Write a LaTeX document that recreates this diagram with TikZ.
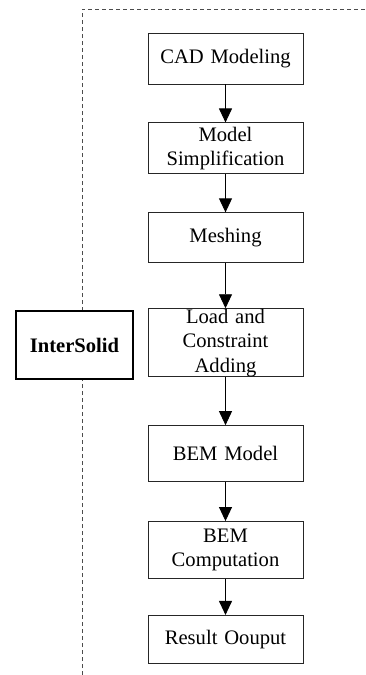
\documentclass[tikz,border=0pt]{standalone}
\usepackage{fontspec}
\setmainfont{Liberation Serif}
\usepackage{tikz}
\usetikzlibrary{positioning, arrows.meta}

\tikzset{
	stage/.style={draw=black!85, line width=0.9pt, text width=150pt, inner xsep=2.5pt, inner ysep=0pt, align=center, font=\fontsize{20.6}{24.5}\selectfont},
	frame/.style={draw=black!70, line width=0.9pt, dash pattern=on 4pt off 3pt}
}

\begin{document}
\begin{tikzpicture}[x=1pt, y=-1pt, >={Triangle[length=14pt,width=13pt]}, ->, line width=0.9pt]
	 	\useasboundingbox (0,0) rectangle (366,675);
	 	\draw[frame, -] (82,675) -- (82,9) -- (366,9);
	 	
	 	\node[stage, minimum height=51pt] at (225.5,58.5) (s0) {CAD Modeling};
	 	\node[stage, minimum height=51pt, below=38pt of s0] (s1) {Model\\Simplification};
	 	\node[stage, minimum height=50pt, below=38pt of s1] (s2) {Meshing};
	 	\node[stage, minimum height=68pt, below=45pt of s2] (s3) {Load and\\Constraint\\Adding};
	 	\node[stage, minimum height=56pt, below=48pt of s3] (s4) {BEM Model};
	 	\node[stage, minimum height=57pt, below=39pt of s4] (s5) {BEM\\Computation};
	 	\node[stage, minimum height=48pt, below=36pt of s5] (s6) {Result Oouput};
	 	
	 	\node[draw, fill=white, line width=1.8pt, minimum width=117pt, minimum height=68pt, font=\fontsize{20.6}{24.5}\selectfont\bfseries] at (74.5,345) (tool) {InterSolid};
	 	
	 	\draw (s0) -> (s1);
	 	\draw (s1) -> (s2);
	 	\draw (s2) -> (s3);
	 	\draw (s3) -> (s4);
	 	\draw (s4) -> (s5);
	 	\draw (s5) -> (s6);
\end{tikzpicture}
\end{document}
